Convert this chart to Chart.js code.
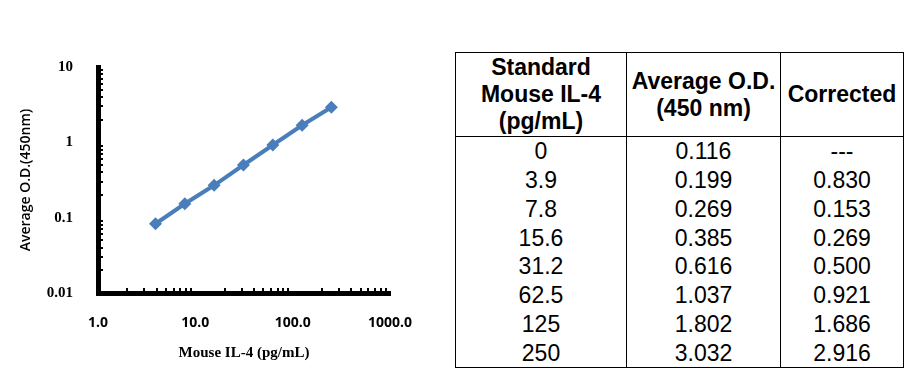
<!DOCTYPE html>
<html>
<head>
<meta charset="utf-8">
<script src="https://cdn.jsdelivr.net/npm/chart.js@4/dist/chart.umd.min.js"></script>
<style>
  html, body { margin: 0; padding: 0; background: #fff; }
  body { width: 911px; height: 386px; position: relative; overflow: hidden; }
  #chartBox { position: absolute; left: 0; top: 0; width: 440px; height: 386px; }
  #odTable {
    position: absolute; left: 455px; top: 52px; width: 448px; height: 314px;
    border-collapse: collapse; font-family: "Liberation Sans", Arial, sans-serif;
    color: #000; table-layout: fixed;
  }
  #odTable th, #odTable td { text-align: center; padding: 0; }
  #odTable th {
    font-weight: bold; font-size: 23px; line-height: 27px; height: 83px;
    border: 1.5px solid #000;
  }
  #odTable td {
    font-size: 23px; line-height: 28px; height: 28.75px;
    border-left: 1.5px solid #000; border-right: 1.5px solid #000;
  }
  #odTable tr:last-child td { border-bottom: 1.5px solid #000; }
</style>
</head>
<body>
<div id="chartBox"><canvas id="curveChart"></canvas></div>
<table id="odTable"></table>
<script>
// table columns
const standards = ['0', '3.9', '7.8', '15.6', '31.2', '62.5', '125', '250'];
const averageOD = ['0.116', '0.199', '0.269', '0.385', '0.616', '1.037', '1.802', '3.032'];
const corrected = ['---', '0.830', '0.153', '0.269', '0.500', '0.921', '1.686', '2.916'];
const headers = ['Standard<br>Mouse IL-4<br>(pg/mL)', 'Average O.D.<br>(450 nm)', 'Corrected'];

// plotted standard curve (log-log)
const concentrations = [3.9, 7.8, 15.6, 31.2, 62.5, 125, 250];
const odValues = [0.083, 0.153, 0.269, 0.500, 0.921, 1.686, 2.916];

const xTicks = [1, 10, 100, 1000];
const xTickLabels = ['1.0', '10.0', '100.0', '1000.0'];
const yTicks = [0.01, 0.1, 1, 10];
const yTickLabels = ['0.01', '0.1', '1', '10'];

// build the table
let html = '<colgroup><col style="width:171px"><col style="width:154px"><col style="width:123px"></colgroup>';
html += '<tr>' + headers.map(h => `<th>${h}</th>`).join('') + '</tr>';
standards.forEach((s, i) => {
    html += `<tr><td>${s}</td><td>${averageOD[i]}</td><td>${corrected[i]}</td></tr>`;
});
document.getElementById('odTable').innerHTML = html;

// small inward ticks at 2..9 of every decade, like the original Excel chart
const minorTicks = {
    id: 'minorTicks',
    afterDraw(chart) {
        const {ctx, chartArea, scales} = chart;
        ctx.save();
        ctx.strokeStyle = '#000';
        ctx.lineWidth = 2;
        ctx.beginPath();
        for (let dec = 1; dec < 1000; dec *= 10) {
            for (let d = 2; d <= 9; d++) {
                const px = Math.round(scales.x.getPixelForValue(d * dec));
                ctx.moveTo(px, chartArea.bottom);
                ctx.lineTo(px, chartArea.bottom - 5);
            }
        }
        for (let dec = 0.01; dec < 9; dec *= 10) {
            for (let d = 2; d <= 9; d++) {
                const py = Math.round(scales.y.getPixelForValue(d * dec));
                ctx.moveTo(chartArea.left, py);
                ctx.lineTo(chartArea.left + 5, py);
            }
        }
        ctx.stroke();
        ctx.restore();
    }
};

new Chart(document.getElementById('curveChart'), {
    type: 'line',
    data: {
        datasets: [{
            data: concentrations.map((c, i) => ({x: c, y: odValues[i]})),
            borderColor: '#4a7ebb',
            backgroundColor: '#4a7ebb',
            borderWidth: 4,
            pointStyle: 'rectRot',
            pointRadius: 6.5,
            pointBorderWidth: 0,
            tension: 0
        }]
    },
    options: {
        responsive: true,
        maintainAspectRatio: false,
        animation: false,
        layout: { padding: { left: 8, top: 67, right: 50, bottom: 0 } },
        plugins: { legend: { display: false }, tooltip: { enabled: false } },
        scales: {
            x: {
                type: 'logarithmic',
                min: 1, max: 1000,
                afterBuildTicks: s => { s.ticks = xTicks.map(v => ({value: v})); },
                afterFit: s => { s.height = 93; },
                grid: { display: false },
                border: { display: true, color: '#000', width: 5 },
                ticks: {
                    autoSkip: false, maxRotation: 0, padding: 14, color: '#000',
                    font: { family: '"Open Sans", Lato, sans-serif', weight: 'bold', size: 14 },
                    callback: (v, i) => xTickLabels[i]
                },
                title: {
                    display: true, text: 'Mouse IL-4 (pg/mL)', color: '#000',
                    font: { family: '"Liberation Serif", "Times New Roman", serif', weight: 'bold', size: 15 },
                    padding: { top: 0, bottom: 24 }
                }
            },
            y: {
                type: 'logarithmic',
                min: 0.01, max: 10,
                afterBuildTicks: s => { s.ticks = yTicks.map(v => ({value: v})); },
                afterFit: s => { s.width = 90; },
                grid: { display: false },
                border: { display: true, color: '#000', width: 5 },
                ticks: {
                    autoSkip: false, padding: 17, color: '#000',
                    font: { family: '"Liberation Serif", "Times New Roman", serif', weight: 'bold', size: 15 },
                    callback: (v, i) => yTickLabels[i]
                },
                title: {
                    display: true, text: 'Average O.D.(450nm)', color: '#000',
                    font: { family: '"Open Sans", sans-serif', size: 14, weight: '600' },
                    padding: { top: 10, bottom: 0 }
                }
            }
        }
    },
    plugins: [minorTicks]
});
</script>
</body>
</html>
